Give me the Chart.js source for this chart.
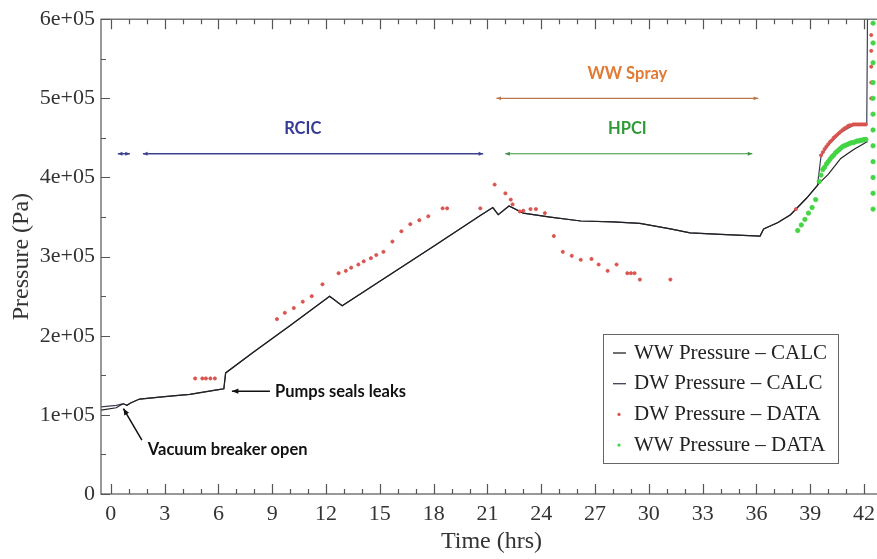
<!DOCTYPE html>
<html>
<head>
<meta charset="utf-8">
<script src="https://cdn.jsdelivr.net/npm/chart.js@4/dist/chart.umd.min.js"></script>
<style>
  html, body { margin: 0; padding: 0; background: #fff; overflow: hidden; }
  #wrap { width: 890px; height: 559px; }
</style>
</head>
<body>
<div id="wrap"><canvas id="pressureChart" width="890" height="559"></canvas></div>
<script>
// Data (time in hrs, pressure in Pa)
const calcTime = [-0.55, 0.3, 0.6, 0.7, 0.9, 1.1, 1.6, 3, 4.4, 6.0, 6.3, 6.4, 8, 10, 12.2, 12.9, 15, 18, 20.6, 21.3, 21.6, 22.2, 23, 24.5, 26.2, 28, 29.5, 31.2, 32.3, 34, 36.2, 36.4, 37.2, 37.9, 38.8, 39.4, 39.6, 40.0, 40.7, 41.4, 42.0, 42.15, 42.2];
const wwCalc = [106000, 109000, 113000, 114000, 112000, 115000, 120000, 123000, 126000, 132000, 133000, 153000, 180000, 213000, 250000, 238000, 269000, 313000, 352000, 362000, 353000, 364000, 355000, 350000, 345000, 344000, 342000, 335000, 330000, 328000, 326000, 335000, 343000, 353000, 374000, 390000, 395000, 404000, 424000, 435000, 443000, 445000, 445000];
const dwCalc = [110000, 112000, 113500, 114000, 112000, 115000, 120000, 123000, 126000, 132000, 133000, 153000, 180000, 213000, 250000, 238000, 269000, 313000, 352000, 362000, 353000, 364000, 355000, 350000, 345000, 344000, 342000, 335000, 330000, 328000, 326000, 335000, 343000, 353000, 374000, 390000, 427000, 441000, 457000, 466000, 466000, 467000, 630000];

const dwDataTime = [4.7, 5.1, 5.3, 5.55, 5.8, 9.26, 9.7, 10.2, 10.7, 11.2, 11.8, 12.7, 13.1, 13.4, 13.8, 14.1, 14.5, 14.8, 15.2, 15.7, 16.2, 16.7, 17.2, 17.7, 18.5, 18.75, 20.6, 21.4, 22.0, 22.3, 22.4, 22.8, 23.0, 23.4, 23.7, 24.2, 24.7, 25.2, 25.7, 26.2, 26.8, 27.2, 27.7, 28.2, 28.8, 29.0, 29.2, 29.5, 31.2, 38.2, 39.6, 39.7, 39.8, 39.9, 40.0, 40.1, 40.2, 40.3, 40.4, 40.5, 40.6, 40.7, 40.8, 40.9, 41.0, 41.1, 41.2, 41.3, 41.4, 41.5, 41.6, 41.7, 41.8, 41.9, 42.0, 42.1, 42.4, 42.4, 42.4, 42.4, 42.4];
const dwData = [146000, 146000, 146000, 146000, 146000, 221000, 229000, 235000, 243000, 250000, 265000, 279000, 282000, 286000, 290000, 294000, 298000, 302000, 306000, 319000, 332000, 341000, 346000, 351000, 361000, 361000, 361000, 391000, 380000, 372000, 366000, 357000, 358000, 360000, 360000, 355000, 326000, 306000, 301000, 296000, 297000, 290000, 282000, 290000, 279000, 279000, 279000, 271000, 271000, 360000, 428000, 432000, 436000, 439000, 442000, 445000, 447000, 450000, 452000, 454000, 456000, 458000, 460000, 462000, 463000, 465000, 466000, 466000, 467000, 467000, 467000, 467000, 467000, 467000, 467000, 467000, 580000, 560000, 540000, 520000, 500000];

const wwDataTime = [38.3, 38.5, 38.7, 38.9, 39.1, 39.3, 39.5, 39.6, 39.7, 39.8, 39.9, 40.0, 40.1, 40.2, 40.3, 40.4, 40.5, 40.6, 40.7, 40.8, 40.9, 41.0, 41.1, 41.2, 41.3, 41.4, 41.5, 41.6, 41.7, 41.8, 41.9, 42.0, 42.1, 42.5, 42.5, 42.5, 42.5, 42.5, 42.5, 42.5, 42.5, 42.5, 42.5, 42.5, 42.5];
const wwData = [333000, 340000, 347000, 355000, 362000, 372000, 395000, 403000, 410000, 413000, 417000, 420000, 423000, 426000, 428000, 431000, 433000, 435000, 437000, 439000, 440000, 441000, 442000, 443000, 444000, 444000, 445000, 446000, 446000, 447000, 447000, 448000, 448000, 595000, 570000, 545000, 520000, 500000, 480000, 460000, 440000, 420000, 400000, 380000, 360000];

const xTicks = [0, 3, 6, 9, 12, 15, 18, 21, 24, 27, 30, 33, 36, 39, 42];
const yTicks = [0, 100000, 200000, 300000, 400000, 500000, 600000];
const yTickLabels = ['0', '1e+05', '2e+05', '3e+05', '4e+05', '5e+05', '6e+05'];

// Annotations (data coordinates)
const spans = [
  { from: 0.39, to: 1.06, p: 430000, color: '#3c4190', width: 1.5 },
  { from: 1.79, to: 20.76, p: 430000, color: '#3c4190', width: 1.5 },
  { from: 21.5, to: 36.1, p: 500000, color: '#b87a4c', width: 1.2 },
  { from: 21.99, to: 35.77, p: 430000, color: '#3a9540', width: 1.2 }
];
const labels = [
  { text: 'RCIC', t: 10.7, p: 462000, color: '#343a94', align: 'center' },
  { text: 'WW Spray', t: 28.8, p: 531000, color: '#e07a34', align: 'center' },
  { text: 'HPCI', t: 28.8, p: 462000, color: '#2f9a37', align: 'center' },
  { text: 'Pumps seals leaks', t: 9.15, p: 129000, color: '#111', align: 'left' },
  { text: 'Vacuum breaker open', t: 2.06, p: 56600, color: '#111', align: 'left' }
];
const pointers = [
  { t1: 8.87, p1: 130000, t2: 6.75, p2: 130000 },
  { t1: 1.73, p1: 68000, t2: 0.7, p2: 108000 }
];

const serif = 'Liberation Serif, DejaVu Serif, serif';

// Helper: arrow head
function arrowHead(ctx, x1, y1, x2, y2, size) {
  const a = Math.atan2(y2 - y1, x2 - x1);
  ctx.beginPath();
  ctx.moveTo(x2, y2);
  ctx.lineTo(x2 - size * Math.cos(a - 0.4), y2 - size * Math.sin(a - 0.4));
  ctx.lineTo(x2 - size * Math.cos(a + 0.4), y2 - size * Math.sin(a + 0.4));
  ctx.closePath();
  ctx.fill();
}

// Box frame with inside ticks
const frameTicks = {
  id: 'frameTicks',
  afterDraw(chart) {
    const { ctx, chartArea: a, scales: { x, y } } = chart;
    ctx.save();
    ctx.strokeStyle = '#555';
    ctx.lineWidth = 1.2;
    ctx.strokeRect(a.left, a.top, a.right - a.left, a.bottom - a.top);
    ctx.beginPath();
    for (let t = 0; t <= 43; t++) {
      const px = Math.round(x.getPixelForValue(t)) + 0.5;
      const len = t % 3 === 0 ? 10 : 5;
      ctx.moveTo(px, a.bottom); ctx.lineTo(px, a.bottom - len);
      ctx.moveTo(px, a.top); ctx.lineTo(px, a.top + len);
    }
    for (let v = 0; v <= 600000; v += 50000) {
      const py = Math.round(y.getPixelForValue(v)) + 0.5;
      const len = v % 100000 === 0 ? 9 : 5;
      ctx.moveTo(a.left, py); ctx.lineTo(a.left + len, py);
    }
    ctx.stroke();
    ctx.restore();
  }
};

// Phase arrows and text notes
const notes = {
  id: 'notes',
  afterDatasetsDraw(chart) {
    const { ctx, scales: { x, y } } = chart;
    ctx.save();
    spans.forEach(s => {
      const x1 = x.getPixelForValue(s.from), x2 = x.getPixelForValue(s.to), py = y.getPixelForValue(s.p);
      ctx.strokeStyle = s.color;
      ctx.fillStyle = s.color;
      ctx.lineWidth = s.width;
      ctx.beginPath(); ctx.moveTo(x1, py); ctx.lineTo(x2, py); ctx.stroke();
      arrowHead(ctx, x2, py, x1, py, 5);
      arrowHead(ctx, x1, py, x2, py, 5);
    });
    ctx.strokeStyle = '#111';
    ctx.fillStyle = '#111';
    ctx.lineWidth = 1.5;
    pointers.forEach(p => {
      const x1 = x.getPixelForValue(p.t1), y1 = y.getPixelForValue(p.p1);
      const x2 = x.getPixelForValue(p.t2), y2 = y.getPixelForValue(p.p2);
      ctx.beginPath(); ctx.moveTo(x1, y1); ctx.lineTo(x2, y2); ctx.stroke();
      arrowHead(ctx, x1, y1, x2, y2, 7);
    });
    ctx.font = 'bold 16.5px Lato, "Open Sans", sans-serif';
    ctx.textBaseline = 'middle';
    labels.forEach(l => {
      ctx.fillStyle = l.color;
      ctx.textAlign = l.align;
      ctx.fillText(l.text, x.getPixelForValue(l.t), y.getPixelForValue(l.p));
    });
    ctx.restore();
  }
};

// Boxed legend inside the plot
const boxLegend = {
  id: 'boxLegend',
  afterDraw(chart) {
    const { ctx } = chart;
    const bx = 603, by = 334, bw = 235, bh = 129;
    ctx.save();
    ctx.fillStyle = '#fff';
    ctx.fillRect(bx, by, bw, bh);
    ctx.strokeStyle = '#666';
    ctx.lineWidth = 1;
    ctx.strokeRect(bx + 0.5, by + 0.5, bw, bh);
    ctx.font = '21px ' + serif;
    ctx.textBaseline = 'middle';
    ctx.textAlign = 'left';
    chart.data.datasets.forEach((ds, i) => {
      const ry = by + 19 + i * 30.7;
      if (ds.showLine === false) {
        ctx.fillStyle = ds.backgroundColor;
        ctx.beginPath(); ctx.arc(619, ry, 1.6, 0, Math.PI * 2); ctx.fill();
      } else {
        ctx.strokeStyle = ds.borderColor;
        ctx.lineWidth = 1.3;
        ctx.beginPath(); ctx.moveTo(613, ry); ctx.lineTo(626, ry); ctx.stroke();
      }
      ctx.fillStyle = '#222';
      ctx.fillText(ds.label, 634, ry);
    });
    ctx.restore();
  }
};

function toPoints(xs, ys) {
  return xs.map((t, i) => ({ x: t, y: ys[i] }));
}

function initializeChart() {
  const ctx = document.getElementById('pressureChart').getContext('2d');
  new Chart(ctx, {
    type: 'scatter',
    data: {
      datasets: [
        { label: 'WW Pressure \u2013 CALC', data: toPoints(calcTime, wwCalc), showLine: true, borderColor: '#222', borderWidth: 1.2, pointRadius: 0, order: 2 },
        { label: 'DW Pressure \u2013 CALC', data: toPoints(calcTime, dwCalc), showLine: true, borderColor: '#3e3e58', borderWidth: 1.2, pointRadius: 0, order: 3 },
        { label: 'DW Pressure \u2013 DATA', data: toPoints(dwDataTime, dwData), showLine: false, backgroundColor: '#d9534f', borderColor: '#d9534f', pointRadius: 1.6, pointBorderWidth: 0.8, order: 1 },
        { label: 'WW Pressure \u2013 DATA', data: toPoints(wwDataTime, wwData), showLine: false, backgroundColor: '#44d444', borderColor: '#44d444', pointRadius: 2.2, pointBorderWidth: 0.8, order: 0 }
      ]
    },
    options: {
      responsive: false,
      animation: false,
      layout: { padding: { top: 17, right: 8, bottom: 0, left: 0 } },
      plugins: { legend: { display: false }, tooltip: { enabled: false } },
      scales: {
        x: {
          type: 'linear',
          min: -0.55,
          max: 43,
          afterBuildTicks: s => { s.ticks = xTicks.map(v => ({ value: v })); },
          afterFit: s => { s.height = 65; },
          grid: { display: false, drawTicks: false },
          border: { display: false },
          ticks: { autoSkip: false, maxRotation: 0, padding: 7, color: '#333', font: { family: serif, size: 22 } },
          title: { display: true, text: 'Time (hrs)', color: '#333', font: { family: serif, size: 24 }, padding: { top: 0, bottom: 3 } }
        },
        y: {
          min: 0,
          max: 600000,
          afterBuildTicks: s => { s.ticks = yTicks.map(v => ({ value: v })); },
          afterFit: s => { s.width = 101; },
          grid: { display: false, drawTicks: false },
          border: { display: false },
          ticks: { padding: 6, color: '#333', font: { family: serif, size: 22 }, callback: (v) => yTickLabels[yTicks.indexOf(v)] },
          title: { display: true, text: 'Pressure (Pa)', color: '#333', font: { family: serif, size: 24 }, padding: { top: 7, bottom: 0 } }
        }
      }
    },
    plugins: [frameTicks, notes, boxLegend]
  });
}

document.addEventListener('DOMContentLoaded', initializeChart);
</script>
</body>
</html>
